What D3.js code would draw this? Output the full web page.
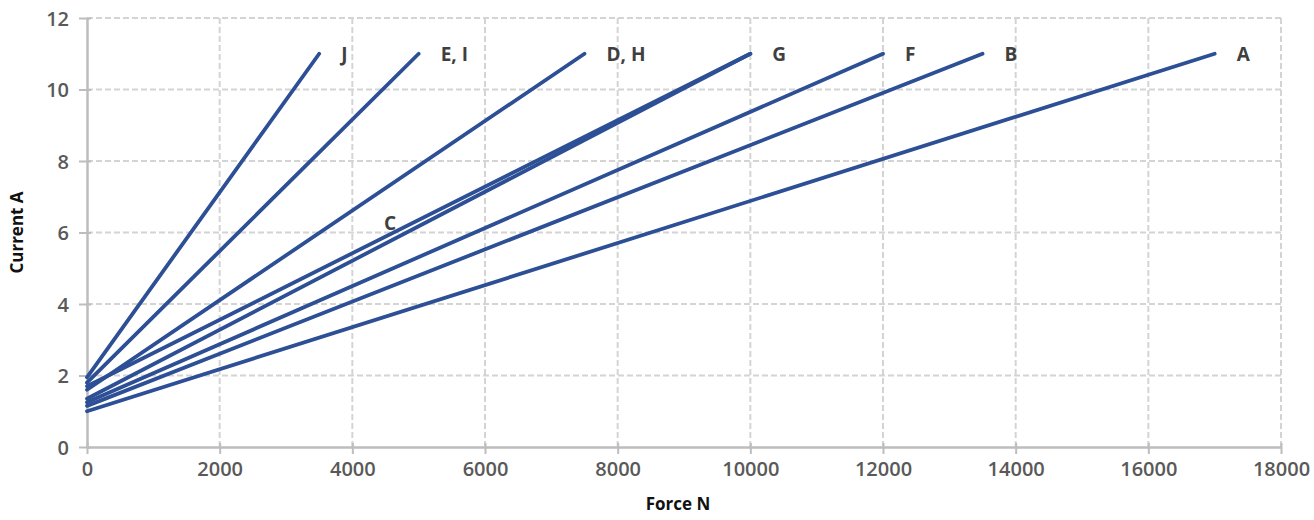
<!DOCTYPE html>
<html>
<head>
<meta charset="utf-8">
<script src="https://cdn.jsdelivr.net/npm/d3@7"></script>
<style>
  body { margin: 0; background: #fff; }
  text { font-family: "Open Sans", sans-serif; }
</style>
</head>
<body>
<svg id="chart" width="1314" height="520"></svg>
<script>
// series: each line runs from (0, startCurrent) to (endForce, endCurrent)
const seriesNames = ["J", "E, I", "D, H", "C", "G", "F", "B", "A"];
const startCurrent = [1.95, 1.8, 1.6, 1.7, 1.35, 1.25, 1.15, 1.0];
const endForce = [3500, 5000, 7500, 10000, 10000, 12000, 13500, 17000];
const endCurrent = [11, 11, 11, 11, 11, 11, 11, 11];
// C sits on top of G at its end, so its label is placed mid-line
const cLabel = { name: "C", force: 4570, current: 6.27 };

const xTicks = [0, 2000, 4000, 6000, 8000, 10000, 12000, 14000, 16000, 18000];
const yTicks = [0, 2, 4, 6, 8, 10, 12];

const width = 1314, height = 520;
const margin = { top: 18, right: 33, bottom: 73, left: 87 };

const svg = d3.select("#chart");
const x = d3.scaleLinear().domain([0, 18000]).range([margin.left, width - margin.right]);
const y = d3.scaleLinear().domain([0, 12]).range([height - margin.bottom, margin.top]);

// dashed grid
svg.append("g").selectAll("line")
    .data(xTicks.slice(1))
    .enter().append("line")
    .attr("x1", d => x(d)).attr("x2", d => x(d))
    .attr("y1", y(0)).attr("y2", y(12))
    .attr("stroke", "#d4d4d4").attr("stroke-width", 2).attr("stroke-dasharray", "6,3");
svg.append("g").selectAll("line")
    .data(yTicks.slice(1))
    .enter().append("line")
    .attr("x1", x(0)).attr("x2", x(18000))
    .attr("y1", d => y(d)).attr("y2", d => y(d))
    .attr("stroke", "#d4d4d4").attr("stroke-width", 2).attr("stroke-dasharray", "6,3");

// axes
const xAxis = svg.append("g")
    .attr("transform", `translate(0,${y(0)})`)
    .call(d3.axisBottom(x).tickValues(xTicks).tickFormat(d3.format("d")).tickSize(7).tickSizeOuter(0).tickPadding(8));
const yAxis = svg.append("g")
    .attr("transform", `translate(${x(0)},0)`)
    .call(d3.axisLeft(y).tickValues(yTicks).tickFormat(d3.format("d")).tickSize(8).tickSizeOuter(0).tickPadding(10));

[xAxis, yAxis].forEach(g => {
    g.select(".domain").attr("stroke", "#bdbdbd").attr("stroke-width", 2.5);
    g.selectAll(".tick line").attr("stroke", "#bdbdbd").attr("stroke-width", 2);
    g.selectAll(".tick text")
        .attr("fill", "#595959")
        .style("font-size", "20px")
        .style("font-weight", "600")
        .style("font-family", "'Open Sans', sans-serif");
});
xAxis.selectAll(".tick line").attr("y1", -4);
yAxis.selectAll(".tick line").attr("x1", 4).attr("x2", -8);
yAxis.selectAll(".tick text").attr("dy", "0.36em");

// lines
const lineData = seriesNames.map((name, i) => ({
    name: name,
    pts: [[0, startCurrent[i]], [endForce[i], endCurrent[i]]]
}));
const line = d3.line().x(d => x(d[0])).y(d => y(d[1]));

svg.append("g").selectAll("path")
    .data(lineData)
    .enter().append("path")
    .attr("d", d => line(d.pts))
    .attr("fill", "none")
    .attr("stroke", "#2c4f95")
    .attr("stroke-width", 3.8)
    .attr("stroke-linecap", "round");

// end labels
const labelStyle = sel => sel
    .attr("fill", "#3f3f3f")
    .style("font-size", "19px")
    .style("font-weight", "700");

svg.append("g").selectAll("text")
    .data(lineData.filter(d => d.name !== "C"))
    .enter().append("text")
    .attr("x", d => x(d.pts[1][0]) + 22)
    .attr("y", d => y(d.pts[1][1]))
    .attr("dy", "0.36em")
    .text(d => d.name)
    .call(labelStyle);

svg.append("text")
    .attr("x", x(cLabel.force))
    .attr("y", y(cLabel.current))
    .attr("text-anchor", "middle")
    .attr("dy", "0.36em")
    .text(cLabel.name)
    .call(labelStyle);

// axis titles
svg.append("text")
    .attr("x", (x(0) + x(18000)) / 2 - 6)
    .attr("y", 510)
    .attr("text-anchor", "middle")
    .attr("fill", "#111")
    .style("font-size", "17px")
    .style("font-weight", "700")
    .text("Force N");

svg.append("text")
    .attr("transform", `translate(23,${(y(0) + y(12)) / 2}) rotate(-90)`)
    .attr("text-anchor", "middle")
    .attr("fill", "#111")
    .style("font-size", "17px")
    .style("font-weight", "700")
    .text("Current A");
</script>
</body>
</html>
